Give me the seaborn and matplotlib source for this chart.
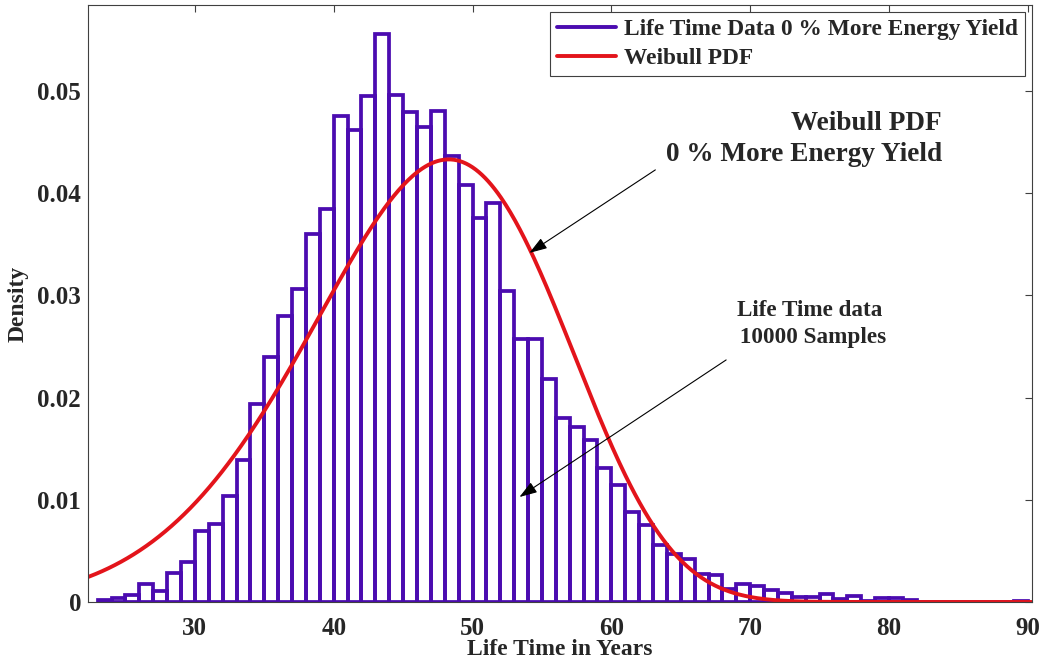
import numpy as np
import matplotlib
matplotlib.use("Agg")
import matplotlib.pyplot as plt
from matplotlib.lines import Line2D
import seaborn as sns

# Histogram bins (1-year width) and normalised densities
bin_edges = list(range(23, 91))
densities = [
    0.0002, 0.0004, 0.0007, 0.0018, 0.0011, 0.0028, 0.0039,           # 23-29
    0.0069, 0.0076, 0.0104, 0.0139, 0.0194,                           # 30-34
    0.0240, 0.0280, 0.0306, 0.0360, 0.0384,                           # 35-39
    0.0475, 0.0462, 0.0495, 0.0556, 0.0496,                           # 40-44
    0.0479, 0.0465, 0.0480, 0.0436, 0.0408,                           # 45-49
    0.0376, 0.0390, 0.0304, 0.0257, 0.0257,                           # 50-54
    0.0218, 0.0180, 0.0171, 0.0158, 0.0131,                           # 55-59
    0.0114, 0.0088, 0.0075, 0.0056, 0.0047,                           # 60-64
    0.0042, 0.0027, 0.0026, 0.0013, 0.0018,                           # 65-69
    0.0016, 0.0012, 0.0009, 0.0005, 0.0005,                           # 70-74
    0.0008, 0.0003, 0.0006, 0.0001, 0.0004,                           # 75-79
    0.0004, 0.0002, 0.0, 0.0, 0.0, 0.0, 0.0, 0.0, 0.0, 0.0001,        # 80-89
]

# Weibull distribution parameters
weibull_shape = 5.78
weibull_scale = 49.9

x_ticks = [30, 40, 50, 60, 70, 80, 90]
y_ticks = [0, 0.01, 0.02, 0.03, 0.04, 0.05]
y_tick_labels = ["0", "0.01", "0.02", "0.03", "0.04", "0.05"]

legend_labels = ["Life Time Data 0 % More Energy Yield", "Weibull PDF"]

purple = "#4B0BB0"
red = "#E3141B"

sns.set_theme(style="white")
plt.rcParams["font.family"] = ["Liberation Serif", "DejaVu Serif"]
plt.rcParams["font.weight"] = "bold"

fig = plt.figure(figsize=(10.46, 6.66), dpi=100)
ax = fig.add_axes([0.0841, 0.0961, 0.9025, 0.8964])

x_min, x_max = 22.3, 90.3
ax.set_xlim(x_min, x_max)
ax.set_ylim(0, 0.0584)

centers = [e + 0.5 for e in bin_edges[:-1]]
sns.histplot(x=centers, weights=densities, bins=bin_edges, stat="count",
             fill=False, element="bars", color=purple, linewidth=2.7, ax=ax)

xs = np.linspace(x_min, x_max, 600)
k, lam = weibull_shape, weibull_scale
pdf = (k / lam) * (xs / lam) ** (k - 1) * np.exp(-(xs / lam) ** k)
sns.lineplot(x=xs, y=pdf, color=red, linewidth=2.8, ax=ax)

ax.set_xticks(x_ticks)
ax.set_yticks(y_ticks)
ax.set_yticklabels(y_tick_labels)
ax.tick_params(axis="both", which="both", direction="in", top=True, right=True,
               length=5, width=0.8, color="#404040", labelsize=18)
ax.tick_params(axis="x", pad=11)
ax.tick_params(axis="y", pad=5)
for lbl in ax.get_xticklabels() + ax.get_yticklabels():
    lbl.set_fontweight("bold")

for s in ax.spines.values():
    s.set_visible(True)
    s.set_color("#404040")
    s.set_linewidth(0.8)

ax.set_xlabel("Life Time in Years", fontsize=17, fontweight="bold", labelpad=-1)
ax.set_ylabel("Density", fontsize=17, fontweight="bold", labelpad=6)

handles = [Line2D([0], [0], color=purple, lw=2.8),
           Line2D([0], [0], color=red, lw=2.8)]
leg = ax.legend(handles, legend_labels, loc="upper right", bbox_to_anchor=(1.0, 1.0),
                borderaxespad=0.3, fancybox=False, framealpha=1, edgecolor="#404040",
                prop={"size": 16.8, "weight": "bold"}, handlelength=2.5,
                handletextpad=0.35, labelspacing=0.32, borderpad=0.3)
leg.get_frame().set_linewidth(0.8)

ax.text(83.8, 0.0453, "Weibull PDF\n0 % More Energy Yield", ha="right", va="center",
        fontsize=19.6, fontweight="bold", multialignment="right", linespacing=1.35)
ax.text(74.3, 0.0272, "Life Time data\n 10000 Samples", ha="center", va="center",
        fontsize=16.7, fontweight="bold", linespacing=1.35)

arrow_kw = dict(arrowstyle="-|>,head_length=0.9,head_width=0.3", color="black",
                lw=0.8, shrinkA=0, shrinkB=0)
ax.annotate("", xy=(54.1, 0.03415), xytext=(63.17, 0.04227), arrowprops=arrow_kw)
ax.annotate("", xy=(53.38, 0.01027), xytext=(68.27, 0.02368), arrowprops=arrow_kw)

fig.savefig("out.png", dpi=100)
